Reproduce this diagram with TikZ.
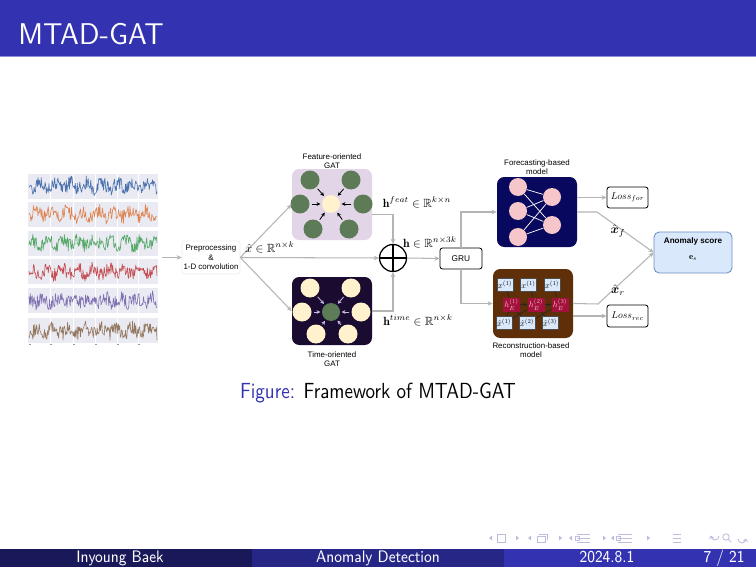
\RequirePackage{fix-cm}
\documentclass[tikz,border=0pt]{standalone}
\usepackage{amsmath,amssymb}
\usepackage{fontspec}
\usepackage{graphicx}
\usetikzlibrary{arrows.meta,calc}
\newfontfamily\arialf{Liberation Sans}
\def\PX{0.48pt}
\newcommand\shr[2]{\scalebox{#1}{#2}}
\definecolor{bblue}{HTML}{3333B2}
\definecolor{bline}{HTML}{8F8FD6}
\definecolor{foota}{HTML}{191959}
\definecolor{footb}{HTML}{262686}
\definecolor{navc}{HTML}{BDBDDD}
\definecolor{lgray}{HTML}{B4B4B4}
\definecolor{sbbg}{HTML}{EAEAF2}
\definecolor{sbA}{HTML}{4C72B0}
\definecolor{sbB}{HTML}{DD8452}
\definecolor{sbC}{HTML}{55A868}
\definecolor{sbD}{HTML}{C44E52}
\definecolor{sbE}{HTML}{8172B3}
\definecolor{sbF}{HTML}{937860}
\definecolor{lav}{HTML}{E1D5E7}
\definecolor{dpurple}{HTML}{1A0B30}
\definecolor{navy}{HTML}{08085E}
\definecolor{brown}{HTML}{5E2F08}
\definecolor{ggreen}{HTML}{5E7B57}
\definecolor{gcream}{HTML}{FFF2CC}
\definecolor{gpink}{HTML}{F6C6CB}
\definecolor{lblue}{HTML}{DAE8FC}
\definecolor{lbluedraw}{HTML}{6C8EBF}
\definecolor{crimson}{HTML}{A3103C}
\definecolor{lightarr}{HTML}{C9BCE0}
\tikzset{
  gl/.style={draw=lgray, line width=0.5pt},
  ga/.style={gl, -{Stealth[length=2.4pt,width=2.2pt]}},
  bigbox/.style={rounded corners=3.5pt, inner sep=0, minimum width=80*\PX},
  ftxt/.style={font=\arialf\fontsize{3.8}{4.6}\selectfont, align=center, inner sep=0},
  mtxt/.style={font=\fontsize{10}{12}\selectfont, inner sep=0},
  gnode/.style={circle, fill=ggreen, minimum size=19*\PX, inner sep=0},
  cnode/.style={circle, fill=gcream, minimum size=19*\PX, inner sep=0},
  pnode/.style={circle, fill=gpink, minimum size=18*\PX, inner sep=0},
  barr/.style={draw=black, line width=0.4pt, -{Stealth[length=1.8pt,width=1.8pt]}, shorten <=0.8pt, shorten >=0.6pt},
  larr/.style={draw=lightarr, line width=0.4pt, -{Stealth[length=1.8pt,width=1.8pt]}, shorten <=0.8pt, shorten >=0.6pt},
  smallbox/.style={rounded corners=1.2pt, draw=black, line width=0.4pt, fill=white, inner sep=0},
  xbox/.style={fill=lblue, draw=black!70, line width=0.2pt, minimum width=16*\PX, minimum height=13*\PX, inner sep=0, font=\fontsize{10}{12}\selectfont},
  hbox/.style={fill=crimson, minimum width=17*\PX, minimum height=14*\PX, inner sep=0, text=gpink, font=\fontsize{10}{12}\selectfont},
  rl/.style={draw=black!85, line width=0.3pt},
  navtri/.style={fill=navc},
  navln/.style={draw=navc, line width=0.4pt},
  slidetxt/.style={font=\sffamily, inner sep=0}
}
\begin{document}
\begin{tikzpicture}[x=0.48pt,y=-0.48pt]
\useasboundingbox (0,0) rectangle (756,567);
\fill[white] (0,0) rectangle (756,567);
% ---- title bar
\fill[bblue] (0,0) rectangle (756,56);
\fill[bline] (0,56) rectangle (756,57.5);
\node[slidetxt, anchor=base west, text=white, font=\sffamily\fontsize{14.4}{16}\selectfont] (title) at (18,45) {\scalebox{0.97}[1]{MTAD-GAT}};
% ---- footer
\fill[foota] (0,549) rectangle (252,567);
\fill[footb] (252,549) rectangle (504,567);
\fill[bblue] (504,549) rectangle (756,567);
\node[slidetxt, anchor=base, text=white, font=\sffamily\fontsize{8}{9}\selectfont] (fauthor) at (120,562) {\scalebox{0.87}[1]{Inyoung Baek}};
\node[slidetxt, anchor=base, text=white, font=\sffamily\fontsize{8}{9}\selectfont] (ftitle) at (378,562) {\scalebox{0.87}[1]{Anomaly Detection}};
\node[slidetxt, anchor=base, text=white, font=\sffamily\fontsize{8}{9}\selectfont] (fdate) at (607,562) {\scalebox{0.87}[1]{2024.8.1}};
\node[slidetxt, anchor=base east, text=white, font=\sffamily\fontsize{8}{9}\selectfont] (fpage) at (745,562) {\scalebox{0.87}[1]{7 / 21}};
% ---- navigation symbols
\foreach \lx/\rx in {489/516, 528/559, 569/603, 611/647}{
  \fill[navtri] (\lx,538) -- (\lx+3,535.5) -- (\lx+3,540.5) -- cycle;
  \fill[navtri] (\rx+3,538) -- (\rx,535.5) -- (\rx,540.5) -- cycle;
}
\draw[navln] (497,534) rectangle (505,542);
\draw[navln] (537,536) rectangle (545,542);
\draw[navln] (539,534) -- (547,534) -- (547,540);
\draw[navln] (577,534) -- (590,534) (577,538) -- (590,538) (577,542) -- (590,542);
\draw[navln] (575,536) rectangle (579,540);
\draw[navln] (618,534) -- (632,534) (618,538) -- (632,538) (618,542) -- (632,542);
\draw[navln] (616,536) rectangle (620,540);
\draw[navln] (673,534) -- (681,534) (673,538) -- (681,538) (673,542) -- (681,542);
\draw[navln] (711,536) arc (180:0:4) (711,536) -- (709.5,539) (711,536) -- (713.5,538);
\draw[navln] (726,537) circle (3.2) (728.3,539.3) -- (731,542);
\draw[navln] (738,539) arc (180:0:4) (746,539) -- (747.5,542) (746,539) -- (743.5,541);
% ---- caption
\node[slidetxt, anchor=base, font=\sffamily\fontsize{10.5}{12}\selectfont] (caption) at (378,398) {\scalebox{0.87}[1]{\textcolor{bblue}{Figure:} Framework of MTAD-GAT}};

% ================= figure =================
% time series panel
\foreach \cy/\col/\sd in {186/sbA/11, 214/sbB/23, 243/sbC/37, 271.5/sbD/41, 300.5/sbE/53, 330.5/sbF/67}{
  \fill[sbbg] (28,\cy-12.5) rectangle (158,\cy+12.5);
  \foreach \gx in {50,73,95,117,138} \draw[white, line width=0.3pt] (\gx,\cy-12.5) -- (\gx,\cy+12.5);
  \begin{scope}
    \clip (28,\cy-12.5) rectangle (158,\cy+12.5);
    \pgfmathsetseed{\sd}
    \draw[\col, line width=0.3pt, line join=round] plot[domain=29:157, samples=200] (\x, {\cy + 3*sin(\x*23+\sd*7) + 7*rand});
  \end{scope}
}
\foreach \gx in {29,50,73,95,117,138} \draw[black!40, line width=0.25pt] (\gx,344) -- (\gx+1.5,344);
\node[inner sep=0, minimum width=130*\PX, minimum height=172*\PX] (series) at (93,257.5) {};

% preprocessing
\node[ftxt, draw=black!7, line width=0.3pt, fill=white, minimum width=58*\PX, minimum height=33*\PX, rounded corners=1pt] (prep) at (211,257.5) {Preprocessing\\\&\\1-D convolution};
\draw[ga] (series.east |- prep.west) ++(4,0) coordinate (sout) (sout) -- (prep.west);

% GAT boxes
\node[bigbox, fill=lav, minimum height=71*\PX] (featbox) at (332,204.5) {};
\node[ftxt] (feattitle) at (332,161) {Feature-oriented\\GAT};
\node[bigbox, fill=dpurple, minimum height=68*\PX] (timebox) at (332,311) {};
\node[ftxt] (timetitle) at (332,359) {Time-oriented\\GAT};

% feature GAT nodes
\node[cnode, minimum size=18*\PX] (fc) at (331,204) {};
\node[gnode] (f1) at (310,180) {};
\node[gnode] (f2) at (351,180) {};
\node[gnode] (f3) at (300,204) {};
\node[gnode] (f4) at (363,204) {};
\node[gnode] (f5) at (313,229) {};
\node[gnode] (f6) at (349,229) {};
\foreach \n in {f1,f2,f3,f4,f5,f6} \draw[barr] (\n) -- (fc);
% time GAT nodes
\node[gnode, minimum size=18*\PX] (tc) at (331,312) {};
\node[cnode] (t1) at (310,288) {};
\node[cnode] (t2) at (351,288) {};
\node[cnode] (t3) at (302,312) {};
\node[cnode] (t4) at (361,312) {};
\node[cnode] (t5) at (316,334) {};
\node[cnode] (t6) at (348,334) {};
\foreach \n in {t1,t2,t3,t4,t5,t6} \draw[larr] (\n) -- (tc);

% concat
\node[circle, draw=black, line width=0.6pt, minimum size=27*\PX, inner sep=0, fill=white] (plus) at (393,258) {};
\draw[black, line width=0.6pt] (plus.north) -- (plus.south) (plus.west) -- (plus.east);

% fan-out
\draw[ga] (prep.east) -- (featbox.west);
\draw[ga] (prep.east) -- (timebox.west);
\draw[ga] (prep.east) -- (plus.west);
\node[mtxt, anchor=base] (xlab) at (270,252) {\shr{0.57}{$\hat{x}\in\mathbb{R}^{n\times k}$}};

\draw[ga] ([yshift=-5pt]featbox.east) -| (plus.north);
\draw[ga] (timebox.east) -| (plus.south);
\node[mtxt, anchor=base] (hfeat) at (417,207) {\shr{0.57}{$\mathbf{h}^{feat}\in\mathbb{R}^{k\times n}$}};
\node[mtxt, anchor=base] (hcat) at (430,247) {\shr{0.57}{$\mathbf{h}\in\mathbb{R}^{n\times 3k}$}};
\node[mtxt, anchor=base] (htime) at (418,325) {\shr{0.57}{$\mathbf{h}^{time}\in\mathbb{R}^{n\times k}$}};

% GRU
\node[smallbox, ftxt, draw=black, minimum width=42*\PX, minimum height=21*\PX, font=\arialf\fontsize{4}{5}\selectfont] (gru) at (461,258.5) {GRU};
\draw[ga] (plus.east) -- (gru.west);

% forecasting model
\node[bigbox, fill=navy, minimum height=70*\PX] (fcbox) at (537,212) {};
\node[ftxt] (fctitle) at (537,167) {Forecasting-based\\model};
\node[pnode] (l1) at (518,187) {};
\node[pnode] (l2) at (518,211) {};
\node[pnode] (l3) at (518,237) {};
\node[pnode] (r1) at (552,197) {};
\node[pnode] (r2) at (552,225) {};
\foreach \a in {l1,l2,l3} \foreach \b in {r1,r2} \draw[white, line width=0.35pt] (\a) -- (\b);

% reconstruction model
\node[bigbox, fill=brown, minimum height=69*\PX] (recbox) at (533,303.5) {};
\node[ftxt] (rectitle) at (531,350) {Reconstruction-based\\model};
\node[xbox] (x1) at (505,285) {\shr{0.41}{$x^{(1)}$}};
\node[xbox] (x2) at (528.5,285) {\shr{0.41}{$x^{(1)}$}};
\node[xbox] (x3) at (552,285) {\shr{0.41}{$x^{(1)}$}};
\node[hbox] (h1) at (511.5,304.5) {\shr{0.41}{$h_E^{(1)}$}};
\node[hbox] (h2) at (536,304.5) {\shr{0.41}{$h_E^{(2)}$}};
\node[hbox] (h3) at (560,304.5) {\shr{0.41}{$h_E^{(3)}$}};
\node[xbox] (y1) at (504,323) {\shr{0.41}{$\hat{x}^{(1)}$}};
\node[xbox] (y2) at (527,323) {\shr{0.41}{$\hat{x}^{(2)}$}};
\node[xbox] (y3) at (550,323) {\shr{0.41}{$\hat{x}^{(3)}$}};
\draw[rl] (x1) -- (h1) (x2) -- (h2) (x3) -- (h3);
\draw[rl] (h1) -- (y2) (h2) -- (y1) (h2) -- (y3) (h3) -- (y2) (h1) -- (y1);
\draw[rl, -{Stealth[length=1.6pt,width=1.5pt]}] (h1) -- (h2);
\draw[rl, -{Stealth[length=1.6pt,width=1.5pt]}] (h2) -- (h3);

% GRU outputs
\draw[ga] (gru.north) |- (fcbox.west);
\draw[ga] (gru.south) |- (recbox.west);

% losses and anomaly score
\node[smallbox, minimum width=41*\PX, minimum height=21*\PX, font=\fontsize{10}{12}\selectfont] (lossf) at (627.5,197.5) {\shr{0.47}{$Loss_{for}$}};
\node[smallbox, minimum width=41*\PX, minimum height=22*\PX, font=\fontsize{10}{12}\selectfont] (lossr) at (627.5,316) {\shr{0.47}{$Loss_{rec}$}};
\node[fill=lblue, draw=lbluedraw, line width=0.4pt, rounded corners=2.5pt, minimum width=78*\PX, minimum height=41*\PX, inner sep=0] (anom) at (693,252.5) {};
\node[ftxt, font=\arialf\bfseries\fontsize{3.9}{4.6}\selectfont] (anomt) at (693,241) {Anomaly score};
\node[inner sep=0, font=\fontsize{10}{12}\selectfont] (anome) at (693,258) {\shr{0.42}{$\mathbf{e}_s$}};

\draw[ga] (fcbox.east |- lossf.west) -- (lossf.west);
\draw[ga] (recbox.east |- lossr.west) -- (lossr.west);
\coordinate (fbend) at (597,212);
\coordinate (rbend) at (598,304);
\draw[ga] (fcbox.east) -- (fbend) -- (anom.west);
\draw[ga] (recbox.east) -- (rbend) -- (anom.west);
\node[mtxt] (xf) at (618,231) {\shr{0.6}{$\hat{\boldsymbol{x}}_{f}$}};
\node[mtxt] (xr) at (618,290) {\shr{0.6}{$\hat{\boldsymbol{x}}_{r}$}};
\end{tikzpicture}
\end{document}
